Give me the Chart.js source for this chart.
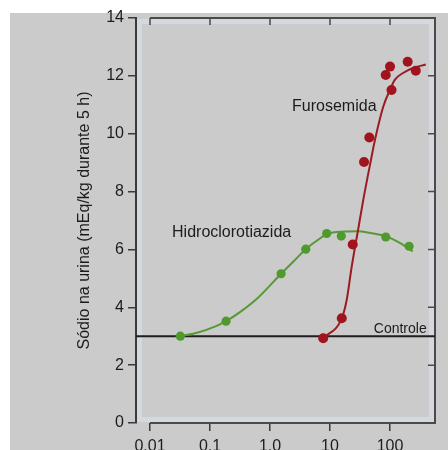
<!DOCTYPE html>
<html>
<head>
<meta charset="utf-8">
<script src="https://cdn.jsdelivr.net/npm/chart.js@4/dist/chart.umd.min.js"></script>
<style>
  html, body { margin: 0; padding: 0; background: #fff; overflow: hidden; width: 448px; height: 450px; }
  #panel { position: absolute; left: 10px; top: 13px; width: 438px; height: 437px; background: #cbcbcb; }
  #wrap { position: absolute; left: 0; top: 0; width: 448px; height: 470px; }
</style>
</head>
<body>
<div id="panel"></div>
<div id="wrap"><canvas id="c" width="448" height="470"></canvas></div>
<script>
// Dose (log axis) ticks and their printed labels
const doseTicks = [0.01, 0.1, 1, 10, 100];
const doseTickLabels = ['0.01', '0.1', '1.0', '10', '100'];

// Hidroclorotiazida: measured points
const hctzDose = [0.032, 0.185, 1.53, 3.94, 8.8, 15.4, 85, 208];
const hctzSodium = [3.0, 3.52, 5.16, 6.01, 6.55, 6.46, 6.43, 6.11];
// Hidroclorotiazida: fitted curve
const hctzCurveDose = [0.032, 0.063, 0.126, 0.185, 0.32, 0.63, 1.53, 2.5, 3.94, 6.3, 8.8, 17.8, 28, 50, 85, 141, 240];
const hctzCurveSodium = [3.0, 3.13, 3.35, 3.52, 3.84, 4.33, 5.16, 5.6, 6.01, 6.33, 6.53, 6.62, 6.63, 6.56, 6.46, 6.24, 5.93];

// Furosemida: measured points
const furoDose = [7.7, 15.7, 23.9, 36.9, 45.2, 84.8, 100, 106, 197, 269];
const furoSodium = [2.93, 3.62, 6.17, 9.02, 9.87, 12.03, 12.32, 11.51, 12.49, 12.18];
// Furosemida: fitted curve
const furoCurveDose = [7.7, 15.7, 19.0, 23.0, 29.0, 35.9, 48.2, 56.2, 77.3, 100, 121, 165, 242, 394];
const furoCurveSodium = [2.93, 3.62, 4.26, 5.41, 6.61, 7.72, 9.10, 9.79, 10.94, 11.52, 11.87, 12.10, 12.27, 12.39];

// Control level of urinary sodium
const controlSodium = 3.0;

const GREEN = '#4f9a2c';
const GREEN_LINE = '#569a36';
const RED = '#a0141d';
const RED_LINE = '#9c1a22';
const FONT = "'Liberation Sans', Arial, Helvetica, sans-serif";

const toXY = (xs, ys) => xs.map((v, i) => ({ x: v, y: ys[i] }));

// Text notes anchored in data space
const notes = [
  { text: 'Furosemida', dose: 2.33, sodium: 10.78, size: 16, align: 'left' },
  { text: 'Hidroclorotiazida', dose: 0.0233, sodium: 6.42, size: 16, align: 'left' },
  { text: 'Controle', dose: 409, sodium: 3.12, size: 14, align: 'right' }
];

const framePlugin = {
  id: 'frame',
  beforeDatasetsDraw(chart) {
    const { ctx, chartArea: a, scales: { x, y } } = chart;
    const x0 = x.getPixelForValue(doseTicks[0]);
    ctx.save();
    // pale inner band along the plot edges
    ctx.strokeStyle = '#d3d9df';
    ctx.lineWidth = 5;
    ctx.strokeRect(a.left + 3.5, a.top + 3.5, a.right - a.left - 7, a.bottom - a.top - 7);
    // frame (top, right, bottom)
    ctx.strokeStyle = '#4a4a4a';
    ctx.lineWidth = 2;
    ctx.beginPath();
    ctx.moveTo(x0, a.top);
    ctx.lineTo(a.right, a.top);
    ctx.lineTo(a.right, a.bottom);
    ctx.lineTo(x0, a.bottom);
    ctx.stroke();
    // inward ticks on top and right
    ctx.lineWidth = 1.5;
    ctx.beginPath();
    x.ticks.forEach(t => {
      const px = x.getPixelForValue(t.value);
      ctx.moveTo(px, a.top); ctx.lineTo(px, a.top + 7);
    });
    y.ticks.forEach(t => {
      const py = y.getPixelForValue(t.value);
      ctx.moveTo(a.right, py); ctx.lineTo(a.right - 7, py);
    });
    ctx.stroke();
    // control line
    const cy = y.getPixelForValue(controlSodium);
    ctx.strokeStyle = '#1e1e1e';
    ctx.lineWidth = 2;
    ctx.beginPath();
    ctx.moveTo(a.left, cy); ctx.lineTo(a.right, cy);
    ctx.stroke();
    ctx.restore();
  },
  afterDatasetsDraw(chart) {
    const { ctx, scales: { x, y } } = chart;
    ctx.save();
    ctx.fillStyle = '#1c1c1c';
    ctx.textBaseline = 'alphabetic';
    notes.forEach(n => {
      ctx.font = n.size + 'px ' + FONT;
      ctx.textAlign = n.align;
      ctx.fillText(n.text, x.getPixelForValue(n.dose), y.getPixelForValue(n.sodium));
    });
    ctx.restore();
  }
};

new Chart(document.getElementById('c'), {
  type: 'scatter',
  data: {
    datasets: [
      { type: 'line', data: toXY(furoCurveDose, furoCurveSodium), borderColor: RED_LINE, borderWidth: 2,
        pointRadius: 0, cubicInterpolationMode: 'monotone', fill: false, order: 1 },
      { data: toXY(furoDose, furoSodium), backgroundColor: RED, borderColor: RED, pointRadius: 5,
        borderWidth: 0, order: 0 },
      { type: 'line', data: toXY(hctzCurveDose, hctzCurveSodium), borderColor: GREEN_LINE, borderWidth: 2,
        pointRadius: 0, cubicInterpolationMode: 'monotone', fill: false, order: 3 },
      { data: toXY(hctzDose, hctzSodium), backgroundColor: GREEN, borderColor: GREEN, pointRadius: 4.6,
        borderWidth: 0, order: 2 }
    ]
  },
  options: {
    responsive: false,
    animation: false,
    devicePixelRatio: 1,
    layout: { padding: { left: 0, top: 18, right: 13, bottom: 0 } },
    plugins: { legend: { display: false }, tooltip: { enabled: false } },
    scales: {
      x: {
        type: 'logarithmic',
        min: 0.00584,
        max: 562,
        afterBuildTicks: s => { s.ticks = doseTicks.map(v => ({ value: v })); },
        afterFit: s => { s.height = 47; },
        ticks: {
          callback: v => doseTickLabels[doseTicks.indexOf(v)],
          font: { family: FONT, size: 16 },
          color: '#1c1c1c',
          padding: 6,
          maxRotation: 0,
          autoSkip: false
        },
        grid: { drawOnChartArea: false, drawTicks: true, tickLength: 8, color: '#3a3a3a', lineWidth: 1.5 },
        border: { display: false }
      },
      y: {
        min: 0,
        max: 14,
        afterFit: s => { s.width = 136; },
        ticks: {
          stepSize: 2,
          font: { family: FONT, size: 16 },
          color: '#1c1c1c',
          padding: 4
        },
        grid: { drawOnChartArea: false, drawTicks: true, tickLength: 8, color: '#3a3a3a', lineWidth: 1.5 },
        border: { color: '#3a3a3a', width: 2 },
        title: {
          display: true,
          text: 'Sódio na urina (mEq/kg durante 5 h)',
          font: { family: FONT, size: 16 },
          color: '#1c1c1c',
          padding: { top: 75, bottom: 0 }
        }
      }
    }
  },
  plugins: [framePlugin]
});
</script>
</body>
</html>
